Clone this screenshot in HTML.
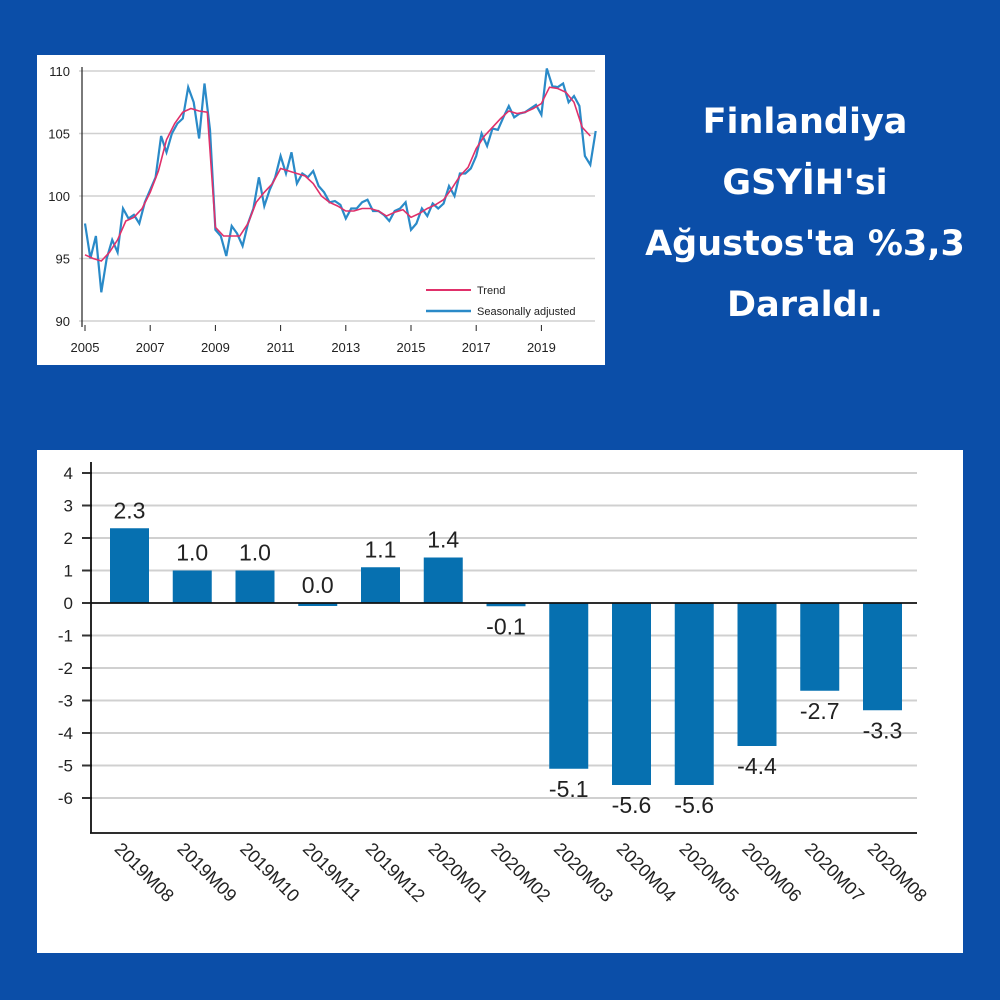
<!DOCTYPE html>
<html><head><meta charset="utf-8"><style>
html,body{margin:0;padding:0}
body{width:1000px;height:1000px;background:#0b4ea8;position:relative;overflow:hidden;font-family:"Liberation Sans",sans-serif}
.panel{position:absolute;background:#fff}
.title{position:absolute;left:608px;top:92px;width:394px;text-align:center;color:#fff;font-weight:bold;font-size:35px;line-height:61px;font-family:"DejaVu Sans","Liberation Sans",sans-serif}
</style></head><body>
<div class="panel" style="left:37px;top:55px;width:568px;height:310px">
<svg id="top" width="568" height="310"></svg></div>
<div class="title">Finlandiya<br>GSYİH'si<br>Ağustos'ta %3,3<br>Daraldı.</div>
<div class="panel" style="left:37px;top:450px;width:926px;height:503px">
<svg id="bot" width="926" height="503"></svg></div>
<script>
// ---- top chart data ----
const trendStart = 2005, trendStep = 0.25;
const trendValues = [95.3,95.0,94.8,95.5, 96.5,98.0,98.3,99.0, 100.3,102.0,104.5,105.8, 106.7,107.0,106.8,106.7, 97.5,96.8,96.8,96.8, 97.8,99.5,100.3,101.0, 102.2,102.0,101.8,101.6, 101.0,100.0,99.5,99.2, 98.8,98.8,99.0,99.0, 98.8,98.4,98.7,98.9, 98.3,98.6,99.0,99.3, 99.7,100.6,101.6,102.3, 103.8,104.8,105.5,106.2, 106.8,106.6,106.7,107.0, 107.4,108.7,108.6,108.3, 107.5,105.5,104.8];
const saStart = 2005, saStep = 1/6;
const saValues = [97.8,95.0,96.8,92.3,95.0,96.5, 95.5,99.0,98.2,98.5,97.8,99.5, 100.5,101.5,104.8,103.5,105.0,105.8, 106.2,108.7,107.5,104.6,109.0,105.3, 97.3,96.8,95.2,97.6,97.0,96.0, 97.8,99.0,101.5,99.2,100.5,101.5, 103.2,101.8,103.5,101.0,101.8,101.5, 102.0,100.8,100.3,99.5,99.6,99.3, 98.2,99.0,99.0,99.5,99.7,98.8, 98.8,98.5,98.0,98.8,99.0,99.5, 97.3,97.8,99.0,98.4,99.4,99.0, 99.4,100.8,100.0,101.8,101.8,102.2, 103.2,105.0,104.0,105.4,105.3,106.3, 107.2,106.3,106.6,106.7,107.0,107.3, 106.5,110.2,108.8,108.7,109.0,107.5, 108.0,107.2,103.2,102.5,105.2];
const topYTicks = [90,95,100,105,110];
const topXTicks = [2005,2007,2009,2011,2013,2015,2017,2019];
// ---- bottom chart data ----
const months = ["2019M08","2019M09","2019M10","2019M11","2019M12","2020M01","2020M02","2020M03","2020M04","2020M05","2020M06","2020M07","2020M08"];
const changes = [2.3,1.0,1.0,0.0,1.1,1.4,-0.1,-5.1,-5.6,-5.6,-4.4,-2.7,-3.3];
const barYTicks = [4,3,2,1,0,-1,-2,-3,-4,-5,-6];

const NS="http://www.w3.org/2000/svg";
function mk(svg,tag,attrs){const e=document.createElementNS(NS,tag);for(const k in attrs)e.setAttribute(k,attrs[k]);svg.appendChild(e);return e;}

// top chart
(function(){
const svg=document.getElementById('top');
const x=t=>48+(t-2005)*32.6, y=v=>16+(110-v)*12.5;
topYTicks.forEach(v=>{
 const g=mk(svg,'line',{x1:42,x2:558,y1:y(v),y2:y(v),stroke:'#d0d0d0','stroke-width':1.5});
 
 const t=mk(svg,'text',{x:33,y:y(v)+5,'text-anchor':'end','font-size':13,fill:'#222'});t.textContent=v;
 
});
mk(svg,'line',{x1:45,x2:45,y1:12,y2:272,stroke:'#222','stroke-width':1.2});
topXTicks.forEach(v=>{
 mk(svg,'line',{x1:x(v),x2:x(v),y1:270,y2:276,stroke:'#222'});
 const t=mk(svg,'text',{x:x(v),y:297,'text-anchor':'middle','font-size':13,fill:'#222'});t.textContent=v;
 
});
const saPts=saValues.map((v,i)=>x(saStart+i*saStep).toFixed(1)+','+y(v).toFixed(1)).join(' ');
const sa=mk(svg,'polyline',{points:saPts,fill:'none',stroke:'#2a8ac8','stroke-width':2.2});

const trPts=trendValues.map((v,i)=>x(trendStart+i*trendStep).toFixed(1)+','+y(v).toFixed(1)).join(' ');
const tr=mk(svg,'polyline',{points:trPts,fill:'none',stroke:'#e0306a','stroke-width':1.6});

mk(svg,'line',{x1:389,x2:434,y1:235,y2:235,stroke:'#e0306a','stroke-width':2});
let t=mk(svg,'text',{x:440,y:239,'font-size':11,fill:'#222'});t.textContent='Trend';

mk(svg,'line',{x1:389,x2:434,y1:256,y2:256,stroke:'#2a8ac8','stroke-width':2.5});
t=mk(svg,'text',{x:440,y:260,'font-size':11,fill:'#222'});t.textContent='Seasonally adjusted';

})();

// bottom chart
(function(){
const svg=document.getElementById('bot');
const y=v=>153+(0-v)*32.5, xc=i=>92.5+i*62.75;
barYTicks.forEach(v=>{
 if(v!==0){const g=mk(svg,'line',{x1:55,x2:880,y1:y(v),y2:y(v),stroke:'#d0d0d0','stroke-width':2});
 }
 mk(svg,'line',{x1:45,x2:55,y1:y(v),y2:y(v),stroke:'#333','stroke-width':2});
 const t=mk(svg,'text',{x:36,y:y(v)+6,'text-anchor':'end','font-size':17,fill:'#222'});t.textContent=v;
 
});
changes.forEach((v,i)=>{
 const top=Math.min(y(v),y(0)), h=Math.max(Math.abs(y(v)-y(0)),3);
 const r=mk(svg,'rect',{x:xc(i)-19.5,y:v<0?y(0):top,width:39,height:h,fill:'#0670b0'});
 
 const ly=v>=0?y(v)-10:y(v)+28;
 const t=mk(svg,'text',{x:xc(i),y:ly,'text-anchor':'middle','font-size':23,fill:'#222'});t.textContent=v.toFixed(1);
 
 const l=mk(svg,'text',{x:0,y:0,'font-size':18,fill:'#222',transform:`translate(${xc(i)-16},${400}) rotate(45)`});l.textContent=months[i];
 
});
mk(svg,'line',{x1:54,x2:880,y1:y(0),y2:y(0),stroke:'#111','stroke-width':1.8});
mk(svg,'line',{x1:54,x2:54,y1:12,y2:383,stroke:'#111','stroke-width':1.8});
mk(svg,'line',{x1:53,x2:880,y1:383,y2:383,stroke:'#111','stroke-width':1.8});
})();
</script>
</body></html>
